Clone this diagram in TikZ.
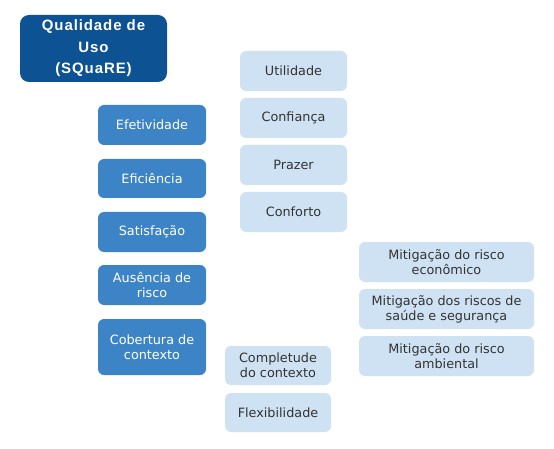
\documentclass[tikz,border=0pt]{standalone}
\usepackage{fontspec}
\setmainfont{DejaVu Sans}
\newfontfamily\titlefont[LetterSpace=6,BoldFont={Liberation Sans Bold}]{Liberation Sans}
\usetikzlibrary{positioning}
\definecolor{darkblue}{HTML}{0D5293}
\definecolor{midblue}{HTML}{3D84C6}
\definecolor{lightblue}{HTML}{CFE2F3}
\definecolor{txtgray}{HTML}{333333}
\tikzset{
  basebox/.style={rounded corners=6pt, inner sep=0pt, align=center,
    font=\fontsize{12.8}{15}\selectfont},
  titlebox/.style={basebox, fill=darkblue, text=white, rounded corners=9pt,
    font=\titlefont\bfseries\fontsize{15}{21.5}\selectfont},
  midbox/.style={basebox, fill=midblue, text=white},
  lightbox/.style={basebox, fill=lightblue, text=txtgray},
}
\newcommand{\bx}[7]{% style, name, x1, y1, x2, y2, text
  \node[#1, minimum width={(#5-#3)*1pt}, minimum height={(#6-#4)*1pt}]
    (#2) at ({(#3+#5)/2}, {(#4+#6)/2}) {#7};}
\begin{document}
\begin{tikzpicture}[x=1pt, y=-1pt]
\useasboundingbox (0,0) rectangle (554,449);
\bx{titlebox}{title}{20}{15}{167}{82}{Qualidade de\\Uso\\(SQuaRE)}
\bx{midbox}{efet}{98}{105}{206}{145}{Efetividade}
\bx{midbox}{efic}{98}{159}{206}{198}{Eficiência}
\bx{midbox}{satis}{98}{212}{206}{252}{Satisfação}
\bx{midbox}{ausen}{98}{265}{206}{305}{Ausência de\\risco}
\bx{midbox}{cobert}{98}{319}{206}{375}{Cobertura de\\contexto}
\bx{lightbox}{util}{240}{51}{347}{91}{Utilidade}
\bx{lightbox}{conf}{240}{98}{347}{138}{Confiança}
\bx{lightbox}{prazer}{240}{145}{347}{185}{Prazer}
\bx{lightbox}{confort}{240}{192}{347}{232}{Conforto}
\bx{lightbox}{econ}{359}{242}{534}{282}{Mitigação do risco\\econômico}
\bx{lightbox}{saude}{359}{289}{534}{329}{Mitigação dos riscos de\\saúde e segurança}
\bx{lightbox}{amb}{359}{336}{534}{376}{Mitigação do risco\\ambiental}
\bx{lightbox}{complet}{225}{346}{331}{385}{Completude\\do contexto}
\bx{lightbox}{flex}{225}{393}{331}{432}{Flexibilidade}
\end{tikzpicture}
\end{document}
